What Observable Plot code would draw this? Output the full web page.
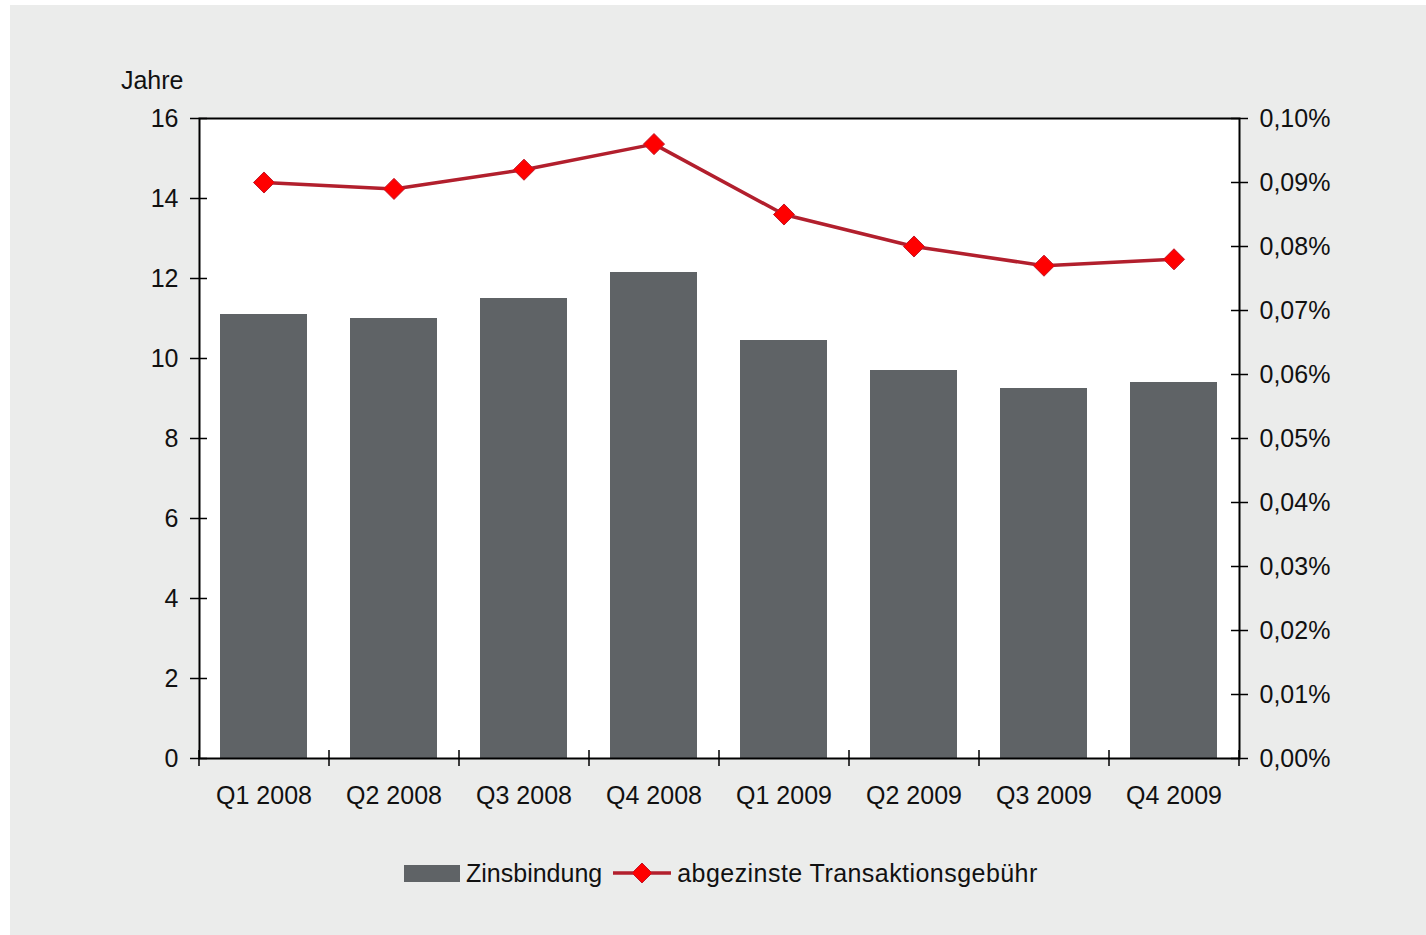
<!DOCTYPE html>
<html><head><meta charset="utf-8">
<script src="https://cdn.jsdelivr.net/npm/d3@7"></script>
<script src="https://cdn.jsdelivr.net/npm/@observablehq/plot@0.6"></script>
<style>
body{margin:0;background:#fff;font-family:"Liberation Sans",Arial,sans-serif;}
#panel{position:absolute;left:10px;top:5px;width:1416px;height:930px;background:#ebeceb;}
#chart{position:absolute;left:0;top:0;}
#legend{position:absolute;top:850px;left:394px;height:36px;display:flex;align-items:center;font-size:25px;color:#111;white-space:nowrap;}
#legend .sw{display:inline-block;width:56px;height:17px;background:#5f6366;margin-right:6px;}
#legend svg{margin-left:11px;margin-right:6px;}
#legend .l2{letter-spacing:0.45px;}
</style></head><body>
<div id="panel"><div id="chart"></div><div id="legend"></div></div>
<script>
const quarters = ["Q1 2008","Q2 2008","Q3 2008","Q4 2008","Q1 2009","Q2 2009","Q3 2009","Q4 2009"];
const zinsbindung = [11.1, 11.0, 11.5, 12.15, 10.45, 9.7, 9.25, 9.4];
const gebuehr = [0.090, 0.089, 0.092, 0.096, 0.085, 0.080, 0.077, 0.078];
const leftTicks = [0, 2, 4, 6, 8, 10, 12, 14, 16];
const rightTicks = [0, 0.01, 0.02, 0.03, 0.04, 0.05, 0.06, 0.07, 0.08, 0.09, 0.10];
const seriesNames = ["Zinsbindung", "abgezinste Transaktionsgebühr"];
const yLabel = "Jahre";

const leftMax = 16, rightMax = 0.10;
const k = leftMax / rightMax;
const data = quarters.map((q, i) => ({q, z: zinsbindung[i], g: gebuehr[i], gs: gebuehr[i] * k}));
const rightScaled = rightTicks.map(v => ({v, y: v * k}));

const W = 1416, H = 830, mL = 189, mR = 187, mT = 113, mB = 77;
const fw = W - mL - mR;
const step = fw / quarters.length;
const barColor = "#5f6366", lineColor = "#b21f2d", dotColor = "#ff0000";
const fontSize = 25;
const tickIn = 8, tickOut = 9;

const chart = Plot.plot({
  width: W, height: H,
  marginLeft: mL, marginRight: mR, marginTop: mT, marginBottom: mB,
  style: {background: "transparent", fontFamily: "'Liberation Sans', Arial, sans-serif", fontSize: fontSize + "px", color: "#111"},
  x: {type: "band", domain: quarters, paddingInner: 0.33, paddingOuter: 0.165, axis: null},
  y: {domain: [0, leftMax], axis: null},
  marks: [
    Plot.frame({fill: "white", stroke: null}),
    Plot.barY(data, {x: "q", y: "z", fill: barColor}),
    Plot.line(data, {x: "q", y: "gs", stroke: lineColor, strokeWidth: 3.5}),
    Plot.dot(data, {x: "q", y: "gs", symbol: "diamond2", r: 9.5, fill: dotColor, stroke: "#c0182a", strokeWidth: 1}),
    // frame box
    Plot.frame({stroke: "#000", strokeWidth: 2}),
    // left ticks + labels
    Plot.ruleY(leftTicks, {y: d => d, insetLeft: -tickOut, insetRight: fw - tickIn, stroke: "#000", strokeWidth: 1.5}),
    Plot.text(leftTicks, {y: d => d, text: d => String(d), frameAnchor: "left", dx: -21, textAnchor: "end", fontSize, fill: "#111"}),
    // right ticks + labels
    Plot.ruleY(rightScaled, {y: "y", insetLeft: fw - tickIn, insetRight: -tickOut, stroke: "#000", strokeWidth: 1.5}),
    Plot.text(rightScaled, {y: "y", text: d => d.v.toFixed(2).replace(".", ",") + "%", frameAnchor: "right", dx: 20, textAnchor: "start", fontSize, fill: "#111"}),
    // x ticks at category boundaries + labels
    Plot.ruleX(quarters, {x: d => d, dx: -step / 2, y1: 0, y2: 0, insetTop: -8, insetBottom: -8, stroke: "#000", strokeWidth: 1.5}),
    Plot.ruleX(quarters.slice(-1), {x: d => d, dx: step / 2, y1: 0, y2: 0, insetTop: -8, insetBottom: -8, stroke: "#000", strokeWidth: 1.5}),
    Plot.text(quarters, {x: d => d, text: d => d, frameAnchor: "bottom", dy: 37, lineAnchor: "middle", fontSize, fill: "#111"}),
    Plot.text([yLabel], {text: d => d, frameAnchor: "top-left", dx: -16, dy: -38, textAnchor: "end", lineAnchor: "middle", fontSize, fill: "#111"})
  ]
});
document.getElementById("chart").appendChild(chart);

const legend = document.getElementById("legend");
legend.innerHTML =
  `<span class="sw"></span><span>${seriesNames[0]}</span>` +
  `<svg width="58" height="22" viewBox="0 0 58 22"><line x1="0" y1="11" x2="58" y2="11" stroke="${lineColor}" stroke-width="3.5"/>` +
  `<path d="M29,1 L39,11 L29,21 L19,11 Z" fill="${dotColor}" stroke="#c0182a" stroke-width="1"/></svg>` +
  `<span class="l2">${seriesNames[1]}</span>`;
</script>
</body></html>
